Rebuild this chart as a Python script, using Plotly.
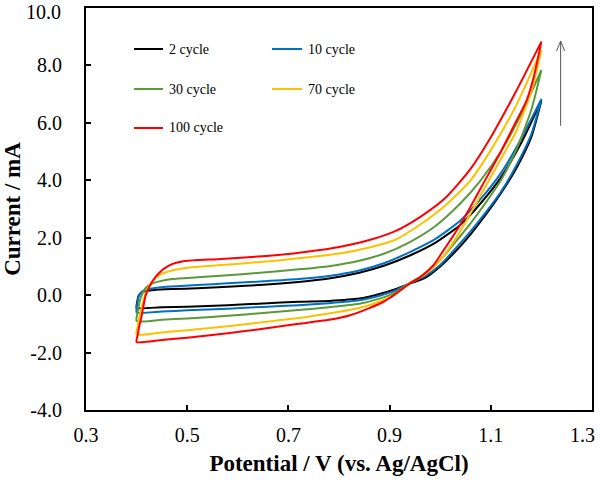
import plotly.graph_objects as go

# ---------------- data ----------------
cycle_names = ["2 cycle", "10 cycle", "30 cycle", "70 cycle", "100 cycle"]
cycle_colors = ["#000000", "#0070C0", "#5B9A3A", "#FFC000", "#FF0000"]

# 2 cycle
c2_fwd_x = [0.400, 0.401, 0.404, 0.410, 0.420, 0.435, 0.47, 0.52, 0.58, 0.65, 0.72, 0.78, 0.84, 0.89, 0.94, 0.99, 1.04, 1.08, 1.12, 1.16, 1.20]
c2_fwd_y = [-0.44, -0.25, -0.02, 0.10, 0.15, 0.18, 0.21, 0.24, 0.29, 0.36, 0.46, 0.58, 0.78, 1.03, 1.38, 1.82, 2.45, 3.20, 4.10, 5.30, 6.78]
c2_rev_x = [1.20, 1.18, 1.15, 1.12, 1.09, 1.06, 1.03, 1.00, 0.97, 0.94, 0.91, 0.88, 0.84, 0.78, 0.72, 0.65, 0.58, 0.50, 0.45, 0.40]
c2_rev_y = [6.78, 5.50, 4.40, 3.55, 2.80, 2.12, 1.52, 1.00, 0.60, 0.40, 0.20, 0.04, -0.12, -0.20, -0.23, -0.29, -0.35, -0.40, -0.42, -0.44]

# 10 cycle
c10_fwd_x = [0.400, 0.401, 0.404, 0.410, 0.420, 0.440, 0.47, 0.52, 0.58, 0.65, 0.72, 0.78, 0.84, 0.89, 0.94, 0.99, 1.04, 1.08, 1.12, 1.16, 1.20]
c10_fwd_y = [-0.60, -0.35, -0.05, 0.12, 0.20, 0.26, 0.30, 0.35, 0.41, 0.48, 0.56, 0.67, 0.86, 1.12, 1.50, 1.95, 2.60, 3.35, 4.25, 5.45, 6.83]
c10_rev_x = [1.20, 1.18, 1.15, 1.12, 1.09, 1.06, 1.03, 1.00, 0.97, 0.94, 0.91, 0.88, 0.84, 0.78, 0.72, 0.65, 0.58, 0.50, 0.45, 0.40]
c10_rev_y = [6.83, 5.60, 4.50, 3.60, 2.88, 2.22, 1.62, 1.05, 0.66, 0.42, 0.15, -0.02, -0.18, -0.28, -0.35, -0.41, -0.47, -0.53, -0.57, -0.60]

# 30 cycle
c30_fwd_x = [0.400, 0.402, 0.405, 0.410, 0.418, 0.430, 0.445, 0.47, 0.52, 0.58, 0.65, 0.72, 0.78, 0.84, 0.89, 0.94, 0.99, 1.04, 1.08, 1.12, 1.16, 1.20]
c30_fwd_y = [-0.90, -0.60, -0.30, 0.00, 0.25, 0.40, 0.48, 0.56, 0.62, 0.69, 0.79, 0.90, 1.01, 1.20, 1.45, 1.85, 2.40, 3.20, 4.00, 5.00, 6.30, 7.84]
c30_rev_x = [1.20, 1.18, 1.15, 1.12, 1.09, 1.06, 1.03, 1.00, 0.97, 0.94, 0.91, 0.88, 0.84, 0.78, 0.72, 0.65, 0.58, 0.50, 0.45, 0.40]
c30_rev_y = [7.84, 6.45, 5.05, 4.00, 3.22, 2.50, 1.85, 1.22, 0.74, 0.42, 0.08, -0.12, -0.30, -0.42, -0.52, -0.62, -0.72, -0.81, -0.86, -0.90]

# 70 cycle
c70_fwd_x = [0.400, 0.402, 0.405, 0.409, 0.415, 0.422, 0.432, 0.445, 0.47, 0.51, 0.56, 0.62, 0.68, 0.74, 0.80, 0.86, 0.91, 0.96, 1.01, 1.06, 1.10, 1.15, 1.20]
c70_fwd_y = [-1.37, -1.10, -0.80, -0.50, -0.10, 0.23, 0.50, 0.70, 0.86, 0.97, 1.04, 1.12, 1.21, 1.32, 1.45, 1.66, 1.92, 2.45, 3.12, 4.00, 5.05, 6.60, 8.54]
c70_rev_x = [1.20, 1.18, 1.15, 1.12, 1.09, 1.06, 1.03, 1.00, 0.97, 0.94, 0.91, 0.88, 0.84, 0.78, 0.72, 0.65, 0.58, 0.50, 0.45, 0.40]
c70_rev_y = [8.54, 7.10, 5.70, 4.75, 3.80, 2.85, 1.95, 1.22, 0.72, 0.42, 0.02, -0.22, -0.45, -0.64, -0.80, -0.94, -1.08, -1.22, -1.30, -1.37]

# 100 cycle
c100_fwd_x = [0.400, 0.402, 0.405, 0.409, 0.418, 0.426, 0.435, 0.445, 0.455, 0.47, 0.49, 0.52, 0.56, 0.62, 0.68, 0.74, 0.80, 0.86, 0.91, 0.96, 1.01, 1.06, 1.10, 1.15, 1.20]
c100_fwd_y = [-1.63, -1.40, -1.10, -0.81, 0.00, 0.32, 0.58, 0.78, 0.93, 1.08, 1.17, 1.22, 1.25, 1.32, 1.40, 1.52, 1.68, 1.92, 2.22, 2.72, 3.38, 4.40, 5.50, 7.10, 8.83]
c100_rev_x = [1.20, 1.185, 1.17, 1.15, 1.12, 1.10, 1.08, 1.06, 1.03, 1.007, 0.987, 0.96, 0.94, 0.92, 0.90, 0.888, 0.86, 0.822, 0.78, 0.72, 0.65, 0.58, 0.50, 0.45, 0.40]
c100_rev_y = [8.83, 7.61, 6.75, 6.05, 5.00, 4.36, 3.72, 3.08, 2.18, 1.57, 1.05, 0.62, 0.41, 0.15, -0.10, -0.23, -0.45, -0.70, -0.86, -1.00, -1.17, -1.33, -1.48, -1.56, -1.63]

x_ticks = [0.3, 0.5, 0.7, 0.9, 1.1, 1.3]
y_ticks = [-4, -2, 0, 2, 4, 6, 8, 10]

loops = [
    (c2_fwd_x + c2_rev_x, c2_fwd_y + c2_rev_y),
    (c10_fwd_x + c10_rev_x, c10_fwd_y + c10_rev_y),
    (c30_fwd_x + c30_rev_x, c30_fwd_y + c30_rev_y),
    (c70_fwd_x + c70_rev_x, c70_fwd_y + c70_rev_y),
    (c100_fwd_x + c100_rev_x, c100_fwd_y + c100_rev_y),
]

FONT = "Liberation Serif, Times New Roman, serif"

fig = go.Figure()
for (xs, ys), name, col in zip(loops, cycle_names, cycle_colors):
    fig.add_trace(go.Scatter(x=xs, y=ys, mode="lines", name=name,
                             line=dict(color=col, width=2, shape="spline", smoothing=0.6),
                             showlegend=False))

# manual two-column legend (paper coordinates)
leg_rows = [0.898, 0.7985, 0.7015]
leg_cols = [(0.0949, 0.1522, 0.160), (0.3676, 0.4269, 0.4348)]
for i, (name, col) in enumerate(zip(cycle_names, cycle_colors)):
    r, c = divmod(i, 2)
    x0, x1, xt = leg_cols[c]
    y = leg_rows[r]
    fig.add_shape(type="line", xref="paper", yref="paper", x0=x0, x1=x1, y0=y, y1=y,
                  line=dict(color=col, width=2))
    fig.add_annotation(xref="paper", yref="paper", x=xt, y=y, text=name, showarrow=False,
                       xanchor="left", yanchor="middle", font=dict(family=FONT, size=14, color="black"))

# edge tick labels are pulled inside the page, as in the reference
x_ticktext = [f"{v:.1f}" for v in x_ticks]
last_x_label = x_ticktext[-1]
x_ticktext[-1] = ""
fig.add_annotation(xref="paper", yref="paper", x=1.0, y=0, text=last_x_label, showarrow=False,
                   xanchor="right", yanchor="middle", xshift=5, yshift=-25,
                   font=dict(family=FONT, size=20, color="black"))

y_ticktext = [f"{v:.1f}" for v in y_ticks]
last_y_label = y_ticktext[-1]
y_ticktext[-1] = ""
fig.add_annotation(xref="paper", yref="paper", x=0, y=1, text=last_y_label, showarrow=False,
                   xanchor="right", yanchor="top", xshift=-24, yshift=8, borderpad=0,
                   font=dict(family=FONT, size=20, color="black"))

# arrow (open head)
ax_x, ay0, ay1 = 1.238, 5.9, 8.85
fig.add_shape(type="line", x0=ax_x, x1=ax_x, y0=ay0, y1=ay1, line=dict(color="#555555", width=1))
fig.add_shape(type="line", x0=ax_x, x1=ax_x - 0.008, y0=ay1, y1=ay1 - 0.35, line=dict(color="#555555", width=1))
fig.add_shape(type="line", x0=ax_x, x1=ax_x + 0.008, y0=ay1, y1=ay1 - 0.35, line=dict(color="#555555", width=1))

fig.update_layout(
    width=601, height=481,
    margin=dict(l=86, r=9, t=8, b=71, autoexpand=False),
    paper_bgcolor="white", plot_bgcolor="white",
    font=dict(family=FONT, color="black"),
    xaxis=dict(range=[0.3, 1.3], tickvals=x_ticks, ticktext=x_ticktext,
               ticks="inside", ticklen=5, tickwidth=2, tickcolor="black",
               showline=True, mirror=True, linecolor="black", linewidth=2,
               showgrid=False, zeroline=False, ticklabelstandoff=6,
               ticklabeloverflow="allow", automargin=False,
               tickfont=dict(family=FONT, size=20),
               title=dict(text="Potential / V (vs. Ag/AgCl)", standoff=10,
                          font=dict(family=FONT, size=23, weight="bold"))),
    yaxis=dict(range=[-4, 10], tickvals=y_ticks, ticktext=y_ticktext,
               ticks="inside", ticklen=5, tickwidth=2, tickcolor="black",
               showline=True, mirror=True, linecolor="black", linewidth=2,
               showgrid=False, zeroline=False, ticklabelstandoff=18,
               ticklabeloverflow="allow", automargin=False,
               tickfont=dict(family=FONT, size=20),
               title=dict(text="Current / mA", standoff=14,
                          font=dict(family=FONT, size=23, weight="bold"))),
)

fig.write_html("out.html")
